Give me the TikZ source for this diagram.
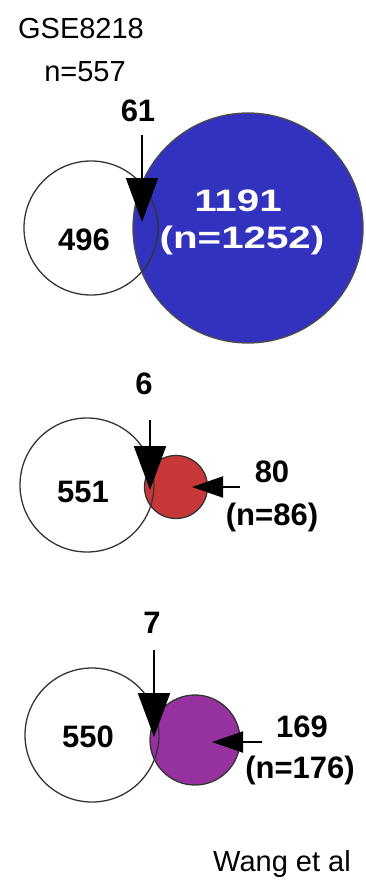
\documentclass[tikz,border=0pt]{standalone}
\usepackage{fontspec}
\setmainfont{Liberation Sans}
\usepackage{graphicx}
\usetikzlibrary{arrows.meta}

\definecolor{vennblue}{RGB}{50,50,190}
\definecolor{vennred}{RGB}{200,55,55}
\definecolor{vennpurple}{RGB}{150,50,160}

\begin{document}
\begin{tikzpicture}[x=1pt,y=-1pt,
  venn/.style={circle, draw=black!80, line width=1.3pt, inner sep=0pt},
  num/.style={inner sep=0pt, font=\fontsize{31}{36}\selectfont\bfseries},
  plain/.style={inner sep=0pt, font=\fontsize{29}{34}\selectfont},
  pointer/.style={line width=2pt, -{Triangle[length=44pt,width=32pt]}},
  sidepointer/.style={line width=2pt, -{Triangle[length=31pt,width=21pt]}}]
\useasboundingbox (0,0) rectangle (366,888);
% GSE8218 panel
\node[plain] (title) at (81,29) {GSE8218};
\node[plain] (nleft) at (85,72) {n=557};
\node[venn, minimum size=230pt, fill=vennblue, draw=black!70] (big) at (248,228) {};
\node[venn, minimum size=134pt] (left1) at (91,228) {};
\node[num] (lab61) at (138,111) {61};
\node[num] (lab496) at (84,240) {496};
\node[num, text=white] (lab1191) at (238,201) {\scalebox{1.3}[1]{1191}};
\node[num, text=white] (lab1252) at (242,240) {\scalebox{1.3}[1]{(n=1252)}};
\coordinate (s61) at (142,135);
\coordinate (t61) at (142,222);
\draw[pointer] (s61) -- (t61);
% second panel
\node[venn, minimum size=63pt, fill=vennred] (red) at (176,487) {};
\node[venn, minimum size=134pt] (left2) at (87,485) {};
\node[num] (lab6) at (144,384) {6};
\node[num] (lab551) at (83,492) {551};
\node[num] (lab80) at (272,472) {80};
\node[num] (lab86) at (272,517) {(n=86)};
\coordinate (s6) at (150,420);
\coordinate (t6) at (150,490);
\draw[pointer] (s6) -- (t6);
\coordinate (r80) at (240,487);
\coordinate (t80) at (192,487);
\draw[sidepointer] (r80) -- (t80);
% third panel
\node[venn, minimum size=90pt, fill=vennpurple] (purple) at (195,740) {};
\node[venn, minimum size=134pt] (left3) at (92,735) {};
\node[num] (lab7) at (152,623) {7};
\node[num] (lab550) at (88,737) {550};
\node[num] (lab169) at (302,727) {169};
\node[num] (lab176) at (300,770) {(n=176)};
\coordinate (s7) at (154,650);
\coordinate (t7) at (154,737);
\draw[pointer] (s7) -- (t7);
\coordinate (r169) at (262,742);
\coordinate (t169) at (212,742);
\draw[sidepointer] (r169) -- (t169);
\node[plain] (credit) at (282,864) {Wang et al};
\end{tikzpicture}
\end{document}
